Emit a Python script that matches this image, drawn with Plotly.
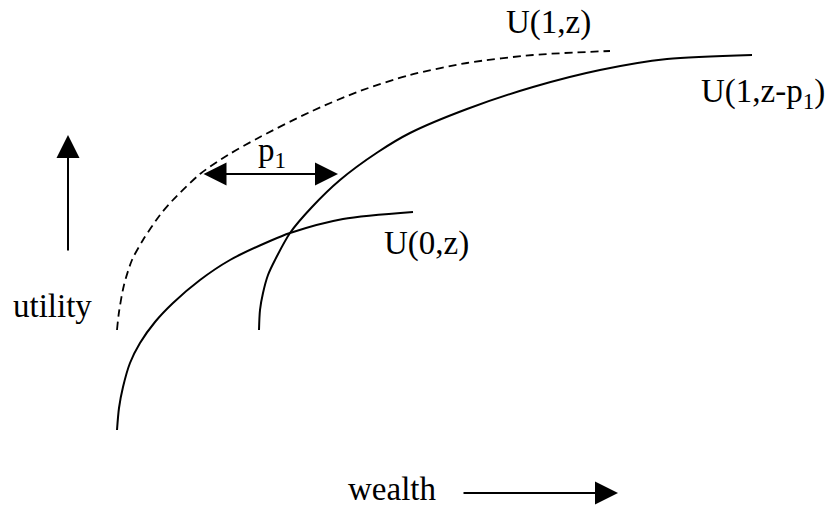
import plotly.graph_objects as go

# Curve points (pixel-space schematic coordinates)
u0_x = [117, 119, 123, 130, 140, 155, 173, 200, 230, 270, 290, 343, 413]
u0_y = [430, 408, 387, 363, 343, 322, 303, 280, 260, 241, 233, 219, 212]

u1p_x = [259, 260, 263, 268, 275, 290, 312, 340, 378, 410, 467, 533, 600, 667, 752]
u1p_y = [330, 310, 293, 275, 260, 233, 207, 180, 152, 133, 109, 87, 70, 59, 55]

u1z_x = [117, 119, 124, 132, 143, 160, 172, 200, 228, 260, 310, 360, 410, 467, 533, 610]
u1z_y = [330, 312, 285, 260, 240, 215, 201, 174, 155, 137, 112, 91, 75, 63, 55, 51]

# Arrows: (x_tail, y_tail, x_head, y_head)
p1_arrow = (202, 174, 338, 174)
utility_arrow = (68, 252, 68, 135)
wealth_arrow = (462, 493, 618, 493)

# Labels: (text, x, y)
labels = [
    ("U(1,z)", 548, 22),
    ("U(1,z-p<sub>1</sub>)", 763, 93),
    ("U(0,z)", 426, 243),
    ("p<sub>1</sub>", 272, 152),
    ("utility", 52, 306),
    ("wealth", 392, 489),
]

FONT = "Liberation Serif"
fig = go.Figure()
for xs, ys, dash, w in [(u0_x, u0_y, "solid", 2), (u1p_x, u1p_y, "solid", 2),
                        (u1z_x, u1z_y, "8px,5px", 1.8)]:
    fig.add_trace(go.Scatter(x=xs, y=ys, mode="lines",
                             line=dict(color="black", width=w, shape="spline",
                                       smoothing=0.8, dash=dash),
                             hoverinfo="skip"))

annos = []
def arrow(a, both=False):
    x0, y0, x1, y1 = a
    annos.append(dict(x=x1, y=y1, ax=x0, ay=y0, xref="x", yref="y", axref="x", ayref="y",
                      showarrow=True, arrowhead=2, arrowsize=2.3, arrowwidth=2,
                      arrowcolor="black", arrowside="end+start" if both else "end",
                      startarrowhead=2, startarrowsize=2.3, text=""))
arrow(p1_arrow, both=True)
arrow(utility_arrow)
arrow(wealth_arrow)

for t, x, y in labels:
    annos.append(dict(x=x, y=y, xref="x", yref="y", text=t, showarrow=False,
                      font=dict(family=FONT, size=33, color="black"),
                      xanchor="center", yanchor="middle"))

fig.update_layout(
    width=831, height=514,
    margin=dict(l=0, r=0, t=0, b=0),
    paper_bgcolor="white", plot_bgcolor="white",
    showlegend=False,
    annotations=annos,
    xaxis=dict(range=[0, 831], visible=False, fixedrange=True),
    yaxis=dict(range=[514, 0], visible=False, fixedrange=True),
)
fig.write_html("out.html", config={"displayModeBar": False, "staticPlot": True})

# remove the default page margin so the figure sits at the window's top-left corner
with open("out.html", encoding="utf-8") as f:
    html = f.read()
html = html.replace("<body>", '<body style="margin:0;overflow:hidden;">', 1)
with open("out.html", "w", encoding="utf-8") as f:
    f.write(html)
